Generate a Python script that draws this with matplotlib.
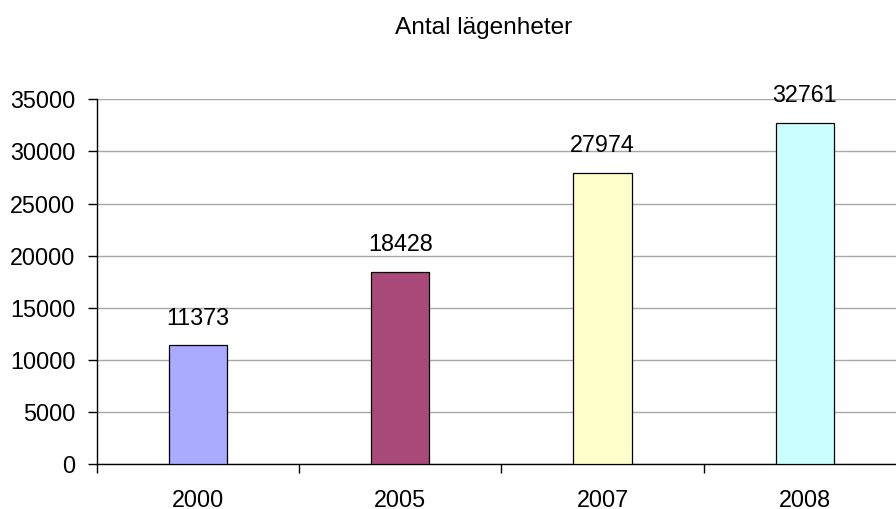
import matplotlib.pyplot as plt
import numpy as np

plt.rcParams['font.family'] = ['Liberation Sans', 'DejaVu Sans']

# data
years = ['2000', '2005', '2007', '2008']
antal = [11373, 18428, 27974, 32761]
colors = ['#AAAAFF', '#A8497A', '#FFFFCC', '#CCFFFF']

fig = plt.figure(figsize=(8.96, 5.09), dpi=100)
ax = fig.add_axes([0.108, 0.0884, 0.903, 0.7165])

x = np.arange(len(years))
bars = ax.bar(x, antal, width=0.288, color=colors, edgecolor='black', linewidth=0.9, zorder=3)
for b, v in zip(bars, antal):
    ax.text(b.get_x() + b.get_width() / 2, v + 1500, str(v), ha='center', va='bottom',
            fontsize=16.8, color='black')

ax.set_xlim(-0.5, len(years) - 0.5)
ax.set_ylim(0, 35000)
ax.set_yticks(np.arange(0, 35001, 5000))
ax.yaxis.grid(True, color='#A8A8A8', linewidth=1, zorder=0)

ax.set_xticks(x)
ax.set_xticklabels(years)
ax.set_xticks(np.arange(-0.5, len(years)), minor=True)
ax.tick_params(axis='x', which='major', length=0, pad=18, labelsize=16.8)
ax.tick_params(axis='x', which='minor', length=6.3, width=1, direction='out')
ax.tick_params(axis='y', length=6.3, width=1, direction='out', pad=9, labelsize=16.8)

for s in ['top', 'right']:
    ax.spines[s].set_visible(False)
ax.spines['left'].set_linewidth(1)
ax.spines['bottom'].set_linewidth(1)

fig.text(0.54, 0.945, 'Antal lägenheter', ha='center', va='center', fontsize=17.6)

fig.savefig('out.png', dpi=100)
